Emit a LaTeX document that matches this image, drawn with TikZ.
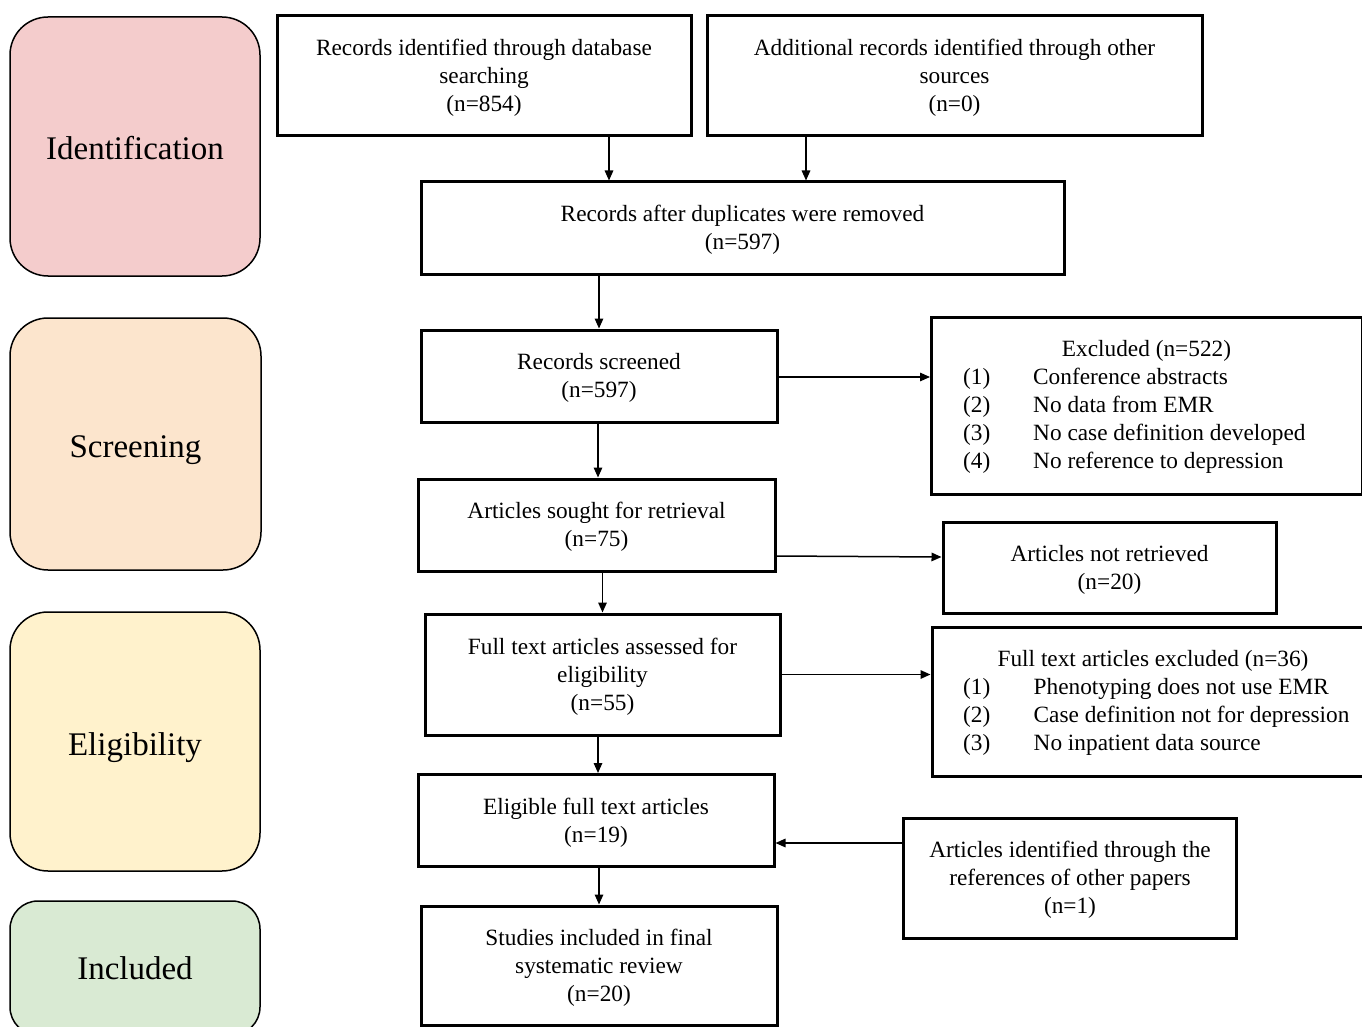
\documentclass[tikz,border=0pt]{standalone}
\usepackage{fontspec}
\setmainfont{Liberation Serif}
\usetikzlibrary{arrows.meta}
\definecolor{idpink}{HTML}{F4CCCC}
\definecolor{scrorange}{HTML}{FCE5CD}
\definecolor{eliyellow}{HTML}{FFF2CC}
\definecolor{incgreen}{HTML}{D9EAD3}
\tikzset{
  stagebox/.style={draw=black, line width=1.5pt, rounded corners=38pt, inner sep=0pt,
    font=\fontsize{33}{40}\selectfont},
  flowbox/.style={draw=black, line width=3pt, fill=white, inner sep=0pt, align=center,
    font=\fontsize{23.3}{28}\selectfont},
  listtext/.style={inner sep=0pt, anchor=base west, font=\fontsize{23.3}{28}\selectfont},
  titletext/.style={inner sep=0pt, anchor=base, font=\fontsize{23.3}{28}\selectfont},
  flowarrow/.style={line width=1.5pt, -{Triangle[length=10pt,width=8.5pt]}},
}
\newcommand{\lowtext}[2]{\raisebox{-#1}[\height][\depth]{#2}}
\newcommand{\flowtext}[1]{\raisebox{-2pt}[\height][\depth]{\begin{tabular}{@{}c@{}}#1\end{tabular}}}
\begin{document}
\begin{tikzpicture}[x=1pt,y=-1pt]
\useasboundingbox (0,0) rectangle (1362,1027);

% stage boxes
\node[stagebox, fill=idpink, minimum width=250pt, minimum height=259pt] (sid) at (135,146.5) {\lowtext{2pt}{Identification}};
\node[stagebox, fill=scrorange, minimum width=251pt, minimum height=252pt] (sscr) at (135.5,444) {\lowtext{6pt}{Screening}};
\node[stagebox, fill=eliyellow, minimum width=250pt, minimum height=259pt] (selig) at (135,741.5) {\lowtext{6pt}{Eligibility}};
\node[stagebox, fill=incgreen, rounded corners=28pt, minimum width=250pt, minimum height=134pt] (sinc) at (135,968) {Included};

% flow boxes
\node[flowbox, minimum width=414pt, minimum height=120pt] (A) at (484,76)
  {\flowtext{Records identified through database\\searching\\(n=854)}};
\node[flowbox, minimum width=495pt, minimum height=120pt] (B) at (954.5,76)
  {\flowtext{Additional records identified through other\\sources\\(n=0)}};
\node[flowbox, minimum width=643pt, minimum height=92pt] (C) at (742.5,228)
  {\flowtext{Records after duplicates were removed\\(n=597)}};
\node[flowbox, minimum width=356pt, minimum height=92pt] (D) at (599,376)
  {\flowtext{Records screened\\(n=597)}};
\node[flowbox, minimum width=431pt, minimum height=177pt] (E) at (1147,405.5) {};
\node[flowbox, minimum width=357pt, minimum height=92pt] (F) at (596.5,525)
  {\flowtext{Articles sought for retrieval\\(n=75)}};
\node[flowbox, minimum width=333pt, minimum height=91pt] (G) at (1109.5,567.5)
  {\flowtext{Articles not retrieved\\(n=20)}};
\node[flowbox, minimum width=355pt, minimum height=121pt] (H) at (602.5,674.5)
  {\flowtext{Full text articles assessed for\\eligibility\\(n=55)}};
\node[flowbox, minimum width=431pt, minimum height=149pt] (I) at (1147.5,701.5) {};
\node[flowbox, minimum width=356pt, minimum height=92pt] (J) at (596,820.5)
  {\flowtext{Eligible full text articles\\(n=19)}};
\node[flowbox, minimum width=333pt, minimum height=120pt] (K) at (1070,878)
  {\flowtext{Articles identified through the\\references of other papers\\(n=1)}};
\node[flowbox, minimum width=356pt, minimum height=119pt] (L) at (599,965.5)
  {\flowtext{Studies included in final\\systematic review\\(n=20)}};

% list texts in E
\node[titletext] (Et) at (1146.5,356) {Excluded (n=522)};
\node[listtext] (E1) at (963,384) {\makebox[70pt][l]{(1)}Conference abstracts};
\node[listtext] (E2) at (963,412) {\makebox[70pt][l]{(2)}No data from EMR};
\node[listtext] (E3) at (963,440) {\makebox[70pt][l]{(3)}No case definition developed};
\node[listtext] (E4) at (963,468) {\makebox[70pt][l]{(4)}No reference to depression};

% list texts in I
\node[titletext] (It) at (1153,666) {Full text articles excluded (n=36)};
\node[listtext] (I1) at (963,694) {\makebox[70.5pt][l]{(1)}Phenotyping does not use EMR};
\node[listtext] (I2) at (963,722) {\makebox[70.5pt][l]{(2)}Case definition not for depression};
\node[listtext] (I3) at (963,750) {\makebox[70.5pt][l]{(3)}No inpatient data source};

% arrows
\draw[flowarrow] ([xshift=125pt]A.south) -- ([xshift=125pt]A.south |- C.north);
\draw[flowarrow] ([xshift=-148.5pt]B.south) -- ([xshift=-148.5pt]B.south |- C.north);
\draw[flowarrow] (D.north |- C.south) -- (D.north);
\draw[flowarrow] ([yshift=-1pt]D.east) -- ([yshift=-1pt]D.east -| E.west);
\draw[flowarrow] ([xshift=-1pt]D.south) -- ([xshift=-1pt]D.south |- F.north);
\draw[flowarrow] ([yshift=-31pt]F.east) -- ([yshift=10.5pt]G.west);
\draw[flowarrow] (H.north |- F.south) -- (H.north);
\draw[flowarrow] (H.east) -- (H.east -| I.west);
\draw[flowarrow] ([xshift=-4.5pt]H.south) -- ([xshift=-4.5pt]H.south |- J.north);
\draw[flowarrow] ([yshift=35pt]K.west) -- ([yshift=35pt]K.west -| J.east);
\draw[flowarrow] (L.north |- J.south) -- (L.north);
\end{tikzpicture}
\end{document}
